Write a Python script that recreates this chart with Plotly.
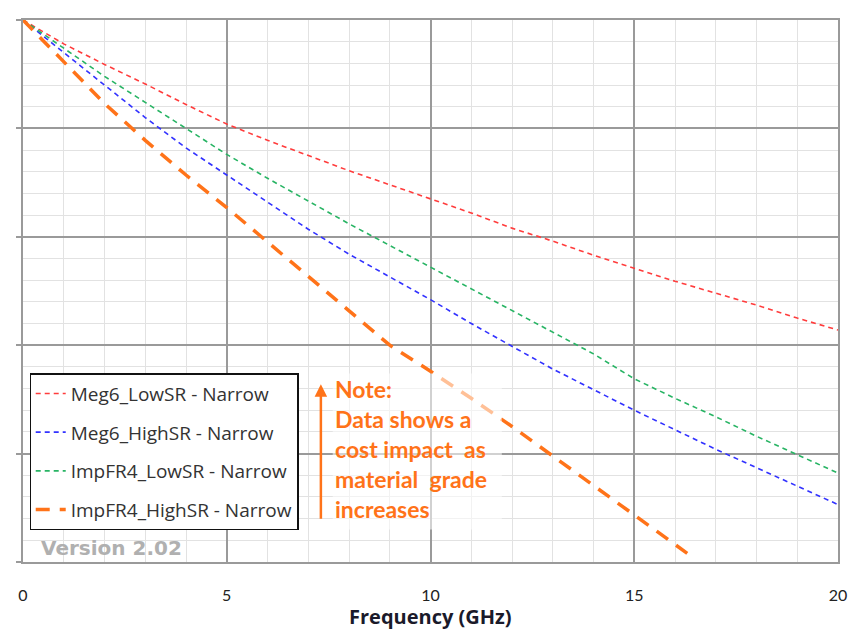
import plotly.graph_objects as go

freq = [0, 1, 2, 3, 4, 5, 6, 7, 8, 9, 10, 11, 12, 13, 14, 15, 16, 17, 18, 19, 20]
meg6_low = [0, -2.2, -4.1, -5.9, -7.8, -9.6, -11.1, -12.5, -13.9, -15.2, -16.5,
            -17.8, -19.2, -20.4, -21.7, -22.9, -24.1, -25.2, -26.3, -27.5, -28.6]
meg6_high = [0, -3.0, -6.0, -9.0, -11.8, -14.3, -16.8, -19.3, -21.6, -23.7, -25.8,
             -28.0, -30.1, -32.2, -34.1, -36.0, -37.8, -39.6, -41.3, -43.0, -44.7]
imp_low = [0, -2.6, -5.2, -7.6, -10.0, -12.4, -14.6, -16.7, -18.8, -20.8, -22.8,
           -24.8, -26.8, -28.8, -30.8, -33.1, -34.9, -36.6, -38.4, -40.1, -41.8]
freq_hi = [0, 1, 2, 3, 4, 5, 6, 7, 8, 9, 10, 11, 12, 13, 14, 15, 16, 16.3]
imp_high = [0, -3.9, -7.7, -11.1, -14.3, -17.3, -20.5, -23.6, -26.8, -30.0, -32.4,
            -34.9, -37.5, -40.2, -42.9, -45.6, -48.3, -49.2]

x_ticks = [0, 5, 10, 15, 20]
names = ["Meg6_LowSR - Narrow", "Meg6_HighSR - Narrow",
         "ImpFR4_LowSR - Narrow", "ImpFR4_HighSR - Narrow"]

ORANGE = "rgb(255,115,25)"
fig = go.Figure()
styles = [
    (freq, meg6_low, "rgb(255,60,60)", 1.6, "5px,4px"),
    (freq, meg6_high, "rgb(50,50,255)", 1.6, "5px,4px"),
    (freq, imp_low, "rgb(40,180,100)", 1.6, "5px,4px"),
    (freq_hi, imp_high, ORANGE, 3.5, "14px,10px"),
]
for i, (xs, ys, col, w, dash) in enumerate(styles):
    fig.add_trace(go.Scatter(x=xs, y=ys, mode="lines", name=names[i],
                             legendgroup=f"g{i}",
                             line=dict(color=col, width=w, dash=dash)))

fig.update_layout(
    width=863, height=630,
    margin=dict(l=10, r=33, t=11, b=76),
    paper_bgcolor="white", plot_bgcolor="white",
    font=dict(family="Lato, Open Sans, sans-serif", color="#222"),
    showlegend=True,
    legend=dict(x=0.008, y=0.348, xanchor="left", yanchor="top",
                bgcolor="white", bordercolor="#111", borderwidth=1.2,
                font=dict(size=19, color="#333", family="Open Sans, sans-serif"),
                traceorder="grouped", tracegroupgap=11),
    xaxis=dict(range=[0, 20], tickvals=x_ticks, showgrid=True,
               gridcolor="#9a9a9a", gridwidth=2,
               minor=dict(dtick=1, showgrid=True, gridcolor="#e2e2e2", gridwidth=1),
               showline=True, linecolor="#9a9a9a", linewidth=2, mirror=True,
               zeroline=False, ticks="", ticklabelstandoff=18,
               tickfont=dict(size=16, color="#222")),
    yaxis=dict(range=[-50, 0], dtick=10, showticklabels=False, showgrid=True,
               gridcolor="#9a9a9a", gridwidth=2,
               minor=dict(dtick=2, showgrid=True, gridcolor="#e2e2e2", gridwidth=1),
               showline=True, linecolor="#9a9a9a", linewidth=2, mirror=True,
               zeroline=False, ticks="outside", ticklen=5, tickcolor="#9a9a9a", tickwidth=2),
)

# x-axis title
fig.add_annotation(xref="paper", yref="paper", x=0.5, y=-0.1, xanchor="center",
                   yanchor="middle", showarrow=False, text="<b>Frequency (GHz)</b>",
                   font=dict(size=20, color="#1a1a2a", family="Open Sans, sans-serif"))

# translucent note box
fig.add_shape(type="rect", xref="x", yref="y", x0=7.6, x1=11.75, y0=-47.0, y1=-32.6,
              fillcolor="rgba(255,255,255,0.55)", line=dict(width=0), layer="above")

fig.add_annotation(xref="x", yref="y", x=7.31, y=-33.6, ax=0, ay=136, text="",
                   showarrow=True, arrowhead=2, arrowsize=1, arrowwidth=2.5,
                   arrowcolor=ORANGE)
fig.add_annotation(xref="x", yref="y", x=7.6, y=-32.6, xanchor="left", yanchor="top",
                   align="left", showarrow=False,
                   text="<b>Note:<br>Data shows a<br>cost impact  as<br>material  grade<br>increases</b>",
                   font=dict(size=23, color=ORANGE, family="Lato, sans-serif"))
fig.add_annotation(xref="x", yref="y", x=0.4, y=-48.7, xanchor="left", yanchor="middle",
                   showarrow=False, text="<b>Version 2.02</b>",
                   font=dict(size=20, color="#b0b0b0", family="DejaVu Sans, sans-serif"))

fig.write_html("out.html")
